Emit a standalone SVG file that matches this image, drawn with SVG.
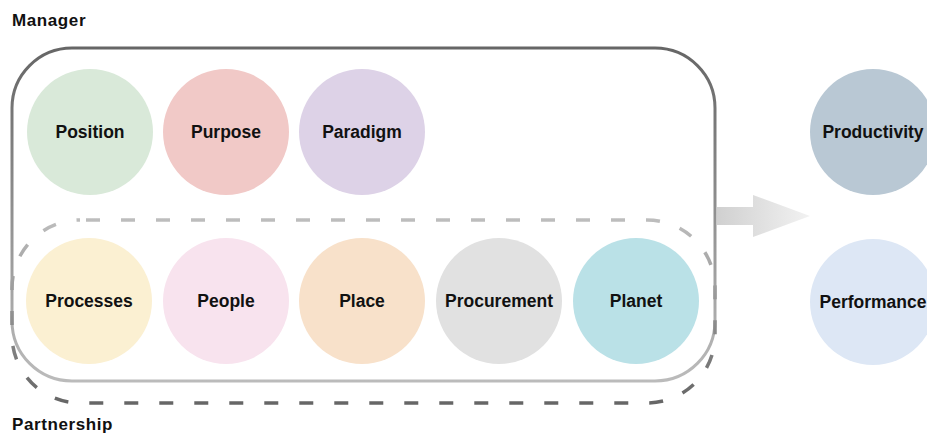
<svg xmlns="http://www.w3.org/2000/svg" width="927" height="434" viewBox="0 0 927 434">
<style>
.t{font-family:"Liberation Sans",Arial,sans-serif;font-weight:bold;font-size:17.5px;fill:#111;text-anchor:middle;dominant-baseline:central}
.h{font-family:"Liberation Sans",Arial,sans-serif;font-weight:bold;font-size:17px;letter-spacing:0.6px;fill:#111}
</style>
<defs>
<linearGradient id="mg" x1="0" y1="0" x2="0" y2="1">
<stop offset="0" stop-color="#666"/><stop offset="1" stop-color="#bbb"/>
</linearGradient>
<linearGradient id="pg" x1="0" y1="0" x2="0" y2="1">
<stop offset="0" stop-color="#bdbdbd"/><stop offset="1" stop-color="#666"/>
</linearGradient>
<linearGradient id="ag" x1="0" y1="0" x2="1" y2="0">
<stop offset="0" stop-color="#d0d0d0"/><stop offset="1" stop-color="#f2f2f2"/>
</linearGradient>
</defs>
<rect width="927" height="434" fill="#fff"/>
<text class="h" x="12" y="26">Manager</text>
<text class="h" x="12" y="430">Partnership</text>
<g id="manager">
<rect x="12" y="48" width="703" height="333" rx="60" fill="none" stroke="url(#mg)" stroke-width="3"/>
</g>
<g id="partnership">
<rect x="12" y="220" width="703" height="183" rx="68" fill="none" stroke="url(#pg)" stroke-width="3.5" stroke-dasharray="14 21" stroke-dashoffset="-6"/>
</g>
<g id="connectors">
<path d="M717 207 H753 V195 L810 216 L753 237 V225 H717 Z" fill="url(#ag)"/>
</g>
<g id="position"><circle cx="90" cy="132" r="63" fill="#d9e9d9"/><text class="t" x="90" y="132">Position</text></g>
<g id="purpose"><circle cx="226" cy="132" r="63" fill="#f1c9c7"/><text class="t" x="226" y="132">Purpose</text></g>
<g id="paradigm"><circle cx="362" cy="132" r="63" fill="#ddd2e7"/><text class="t" x="362" y="132">Paradigm</text></g>
<g id="processes"><circle cx="89" cy="301" r="63" fill="#fbf0d2"/><text class="t" x="89" y="301">Processes</text></g>
<g id="people"><circle cx="226" cy="301" r="63" fill="#f8e3ee"/><text class="t" x="226" y="301">People</text></g>
<g id="place"><circle cx="362" cy="301" r="63" fill="#f8e1ca"/><text class="t" x="362" y="301">Place</text></g>
<g id="procurement"><circle cx="499" cy="301" r="63" fill="#e1e1e1"/><text class="t" x="499" y="301">Procurement</text></g>
<g id="planet"><circle cx="636" cy="301" r="63" fill="#bae1e7"/><text class="t" x="636" y="301">Planet</text></g>
<g id="productivity"><circle cx="873" cy="132" r="63" fill="#b9c8d4"/><text class="t" x="873" y="132">Productivity</text></g>
<g id="performance"><circle cx="873" cy="302" r="63" fill="#dde7f5"/><text class="t" x="873" y="302">Performance</text></g>
</svg>
